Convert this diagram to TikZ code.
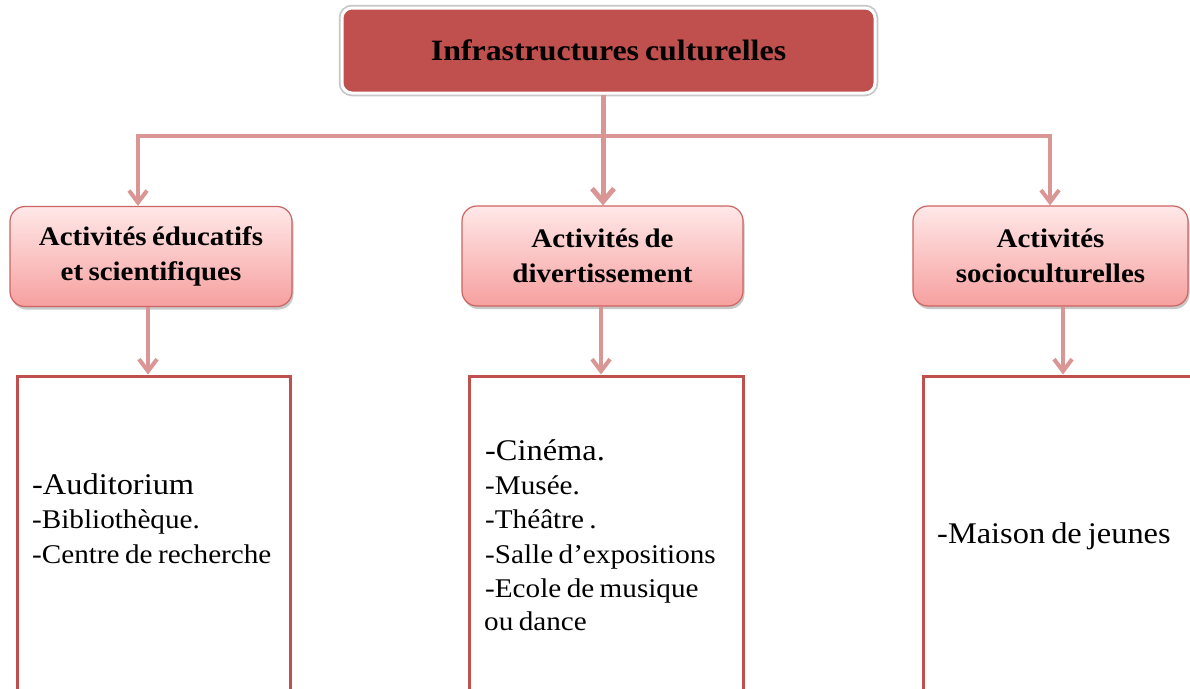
\documentclass[tikz,border=0pt]{standalone}
\usepackage{fontspec}
\setmainfont{Liberation Serif}[FakeStretch=1.08, WordSpace=0.75]
\usetikzlibrary{arrows.meta,shadows}
\definecolor{topred}{RGB}{192,80,77}
\definecolor{conncol}{RGB}{217,150,148}
\definecolor{hdrtop}{RGB}{255,232,232}
\definecolor{hdrbot}{RGB}{246,160,159}
\definecolor{hdredge}{RGB}{204,100,98}
\definecolor{rectedge}{RGB}{192,80,77}
\tikzset{
  topbox/.style={rectangle, rounded corners=10pt, fill=topred, draw=white, line width=3pt,
    minimum width=533pt, minimum height=85pt, inner sep=0pt,
    drop shadow={shadow xshift=1pt, shadow yshift=-2.5pt, opacity=0.35, fill=black!70},
    preaction={draw=black!22, line width=6.5pt},
    font=\fontsize{29.5}{33}\selectfont\bfseries},
  hdrbox/.style={rectangle, rounded corners=15pt, top color=hdrtop, bottom color=hdrbot,
    draw=hdredge, line width=1.2pt, minimum height=100pt, inner sep=0pt, align=center,
    font=\fontsize{26.8}{35}\selectfont\bfseries,
    drop shadow={shadow xshift=1.5pt, shadow yshift=-3pt, opacity=0.3, fill=black!70}},
  listbox/.style={rectangle, draw=rectedge, line width=3pt, inner sep=0pt, fill=white},
  conn/.style={draw=conncol, line width=4pt},
  arr/.style={conn, -{Straight Barb[length=12pt,width=18pt]}},
  bigarr/.style={conn, line width=5pt, -{Straight Barb[length=13pt,width=22pt]}},
  bigline/.style={font=\fontsize{30}{34}\selectfont, anchor=base west, inner sep=0pt},
  smallline/.style={font=\fontsize{27}{34}\selectfont, anchor=base west, inner sep=0pt},
}
\begin{document}
\begin{tikzpicture}[x=1pt,y=1pt]
\useasboundingbox (0,0) rectangle (1190,-688);
\fill[white] (0,0) rectangle (1190,-688);
\clip (0,0) rectangle (1190,-688);

% boxes
\node[topbox] (top) at (608.5,-50.5) {Infrastructures culturelles};
\node[hdrbox, minimum width=282pt] (h1) at (151,-256.5) {Activités éducatifs\\et scientifiques};
\node[hdrbox, minimum width=281pt] (h2) at (602.5,-256) {Activités de\\divertissement};
\node[hdrbox, minimum width=275pt] (h3) at (1050.5,-256) {Activités\\socioculturelles};

\node[listbox, minimum width=273pt, minimum height=334pt] (r1) at (153.5,-543) {};
\node[listbox, minimum width=274pt, minimum height=334pt] (r2) at (606,-543) {};
\node[listbox, minimum width=287pt, minimum height=334pt] (r3) at (1066.5,-543) {};

% list texts
\node[bigline] (a1) at (32,-494) {-Auditorium};
\node[smallline] (a2) at (32,-528) {-Bibliothèque.};
\node[smallline] (a3) at (32,-563) {-Centre de recherche};

\node[bigline] (c1) at (485,-460) {-Cinéma.};
\node[smallline] (c2) at (485,-494) {-Musée.};
\node[smallline] (c3) at (485,-528) {-Théâtre .};
\node[smallline] (c4) at (485,-563) {-Salle d’expositions};
\node[smallline] (c5) at (485,-597) {-Ecole de musique};
\node[smallline] (c6) at (484,-630) {ou dance};

\node[bigline] (m1) at (937,-543) {-Maison de jeunes};

% connectors
\coordinate (jl) at (138,-136);
\coordinate (jc) at (603,-136);
\coordinate (jr) at (1050,-136);
\draw[arr] (jc) -- (jl) -- (h1.north -| jl);
\draw[arr] (jc) -- (jr) -- (h3.north -| jr);
\draw[bigarr] (top.south -| jc) -- (h2.north -| jc);

\coordinate (b1) at (148,-340);
\coordinate (b2) at (601,-340);
\coordinate (b3) at (1063,-340);
\draw[arr] (h1.south -| b1) -- (r1.north -| b1);
\draw[arr] (h2.south -| b2) -- (r2.north -| b2);
\draw[arr] (h3.south -| b3) -- (r3.north -| b3);
\end{tikzpicture}
\end{document}
